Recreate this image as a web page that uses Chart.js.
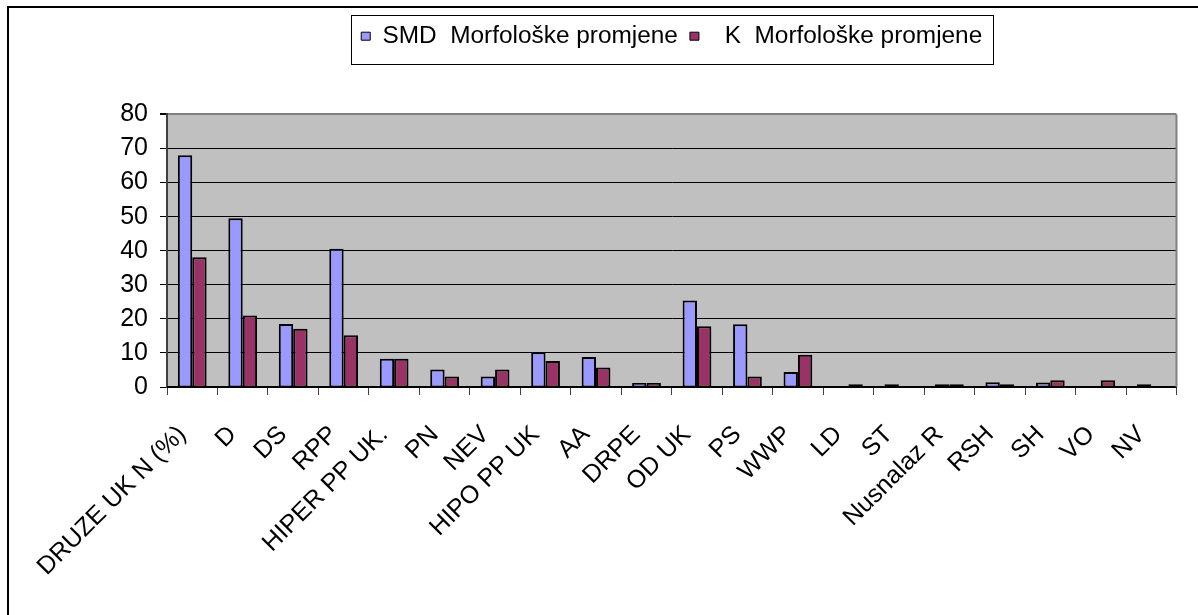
<!DOCTYPE html>
<html>
<head>
<meta charset="utf-8">
<script src="https://cdn.jsdelivr.net/npm/chart.js@4.4.1/dist/chart.umd.min.js"></script>
<style>
  html, body { margin: 0; padding: 0; background: #fff; }
  #wrap { position: relative; width: 1198px; height: 615px; }
</style>
</head>
<body>
<div id="wrap"><canvas id="chart" width="1198" height="615"></canvas></div>
<script>
const categories = [
  'DRUZE UK N (%)', 'D', 'DS', 'RPP', 'HIPER PP UK.', 'PN', 'NEV', 'HIPO PP UK',
  'AA', 'DRPE', 'OD UK', 'PS', 'WWP', 'LD', 'ST', 'Nusnalaz R', 'RSH', 'SH', 'VO', 'NV'
];
const smdValues = [68, 49.5, 18.5, 40.6, 8.3, 5.1, 3.1, 10.2, 8.8, 1.2, 25.4, 18.4, 4.4, 0, 0.8, 0.8, 1.4, 1.3, 0, 0.8];
const kValues = [38.1, 21, 17.1, 15.2, 8.3, 3.1, 5.1, 7.6, 5.7, 1.2, 17.8, 3.1, 9.5, 0.8, 0, 0.8, 0.8, 2.0, 2.0, 0];
const seriesNames = ['SMD  Morfološke promjene', '  K  Morfološke promjene'];
const yMin = 0;
const yMax = 80;
const yStep = 10;

const FAMILY = "'Liberation Sans', Arial, sans-serif";
const TICK_FONT = { family: FAMILY, size: 25 };
const LEGEND_FONT = { family: FAMILY, size: 24.4 };
const BAR_BORDER = { top: 2, left: 2, right: 2, bottom: 1 };

// grey plot background, outer frame, plot edges and legend box
const chartFrame = {
  id: 'chartFrame',
  beforeLayout(chart) {
    const legend = chart.legend;
    if (legend && !legend._tallFit) {
      const fit = legend.fit.bind(legend);
      legend.fit = function () {
        fit();
        this.height += 56;
      };
      legend._tallFit = true;
    }
  },
  beforeDraw(chart) {
    const { ctx, chartArea: a } = chart;
    ctx.save();
    ctx.fillStyle = '#C0C0C0';
    ctx.fillRect(a.left, a.top, a.right - a.left, a.bottom - a.top);
    ctx.restore();
  },
  afterDatasetsDraw(chart) {
    const { ctx, chartArea: a } = chart;
    ctx.save();
    ctx.strokeStyle = '#000';
    ctx.lineWidth = 2;
    ctx.beginPath();
    ctx.moveTo(a.left, a.bottom);
    ctx.lineTo(a.right, a.bottom);
    ctx.stroke();
    ctx.restore();
  },
  afterDraw(chart) {
    const { ctx, chartArea: a, legend } = chart;
    ctx.save();
    ctx.strokeStyle = '#000';
    ctx.lineWidth = 2;
    ctx.beginPath();
    ctx.moveTo(8, 620);
    ctx.lineTo(8, 7);
    ctx.lineTo(1200, 7);
    ctx.stroke();

    ctx.strokeStyle = '#808080';
    ctx.beginPath();
    ctx.moveTo(a.right, a.top);
    ctx.lineTo(a.right, a.bottom);
    ctx.stroke();

    const boxes = legend.legendHitBoxes || [];
    if (boxes.length) {
      const first = boxes[0];
      const last = boxes[boxes.length - 1];
      const x0 = Math.round(first.left - 10);
      const x1 = Math.round(last.left + last.width + 11);
      const y0 = Math.round(first.top - 9);
      const y1 = Math.round(first.top + first.height + 16);
      ctx.strokeStyle = '#000';
      ctx.lineWidth = 1;
      ctx.strokeRect(x0 + 0.5, y0 + 0.5, x1 - x0, y1 - y0);
    }
    ctx.restore();
  }
};

new Chart(document.getElementById('chart'), {
  type: 'bar',
  data: {
    labels: categories,
    datasets: [
      {
        label: seriesNames[0],
        data: smdValues,
        backgroundColor: '#9999FF',
        borderColor: '#000',
        borderWidth: BAR_BORDER,
        borderSkipped: false
      },
      {
        label: seriesNames[1],
        data: kValues,
        backgroundColor: '#993366',
        borderColor: '#000',
        borderWidth: BAR_BORDER,
        borderSkipped: false
      }
    ]
  },
  options: {
    responsive: false,
    animation: false,
    layout: { padding: { top: 12, right: 13, bottom: 0, left: 0 } },
    datasets: { bar: { barPercentage: 1, categoryPercentage: 0.57 } },
    plugins: {
      legend: {
        position: 'top',
        fullSize: false,
        labels: {
          boxWidth: 9,
          boxHeight: 8,
          padding: 12,
          color: '#000',
          font: LEGEND_FONT,
          generateLabels(chart) {
            return Chart.defaults.plugins.legend.labels.generateLabels(chart)
              .map((item) => ({ ...item, lineWidth: 1 }));
          }
        }
      },
      tooltip: { enabled: false }
    },
    scales: {
      x: {
        grid: { drawOnChartArea: false, drawTicks: true, tickLength: 8, color: '#404040', offset: true },
        border: { color: '#404040', width: 2 },
        ticks: {
          color: '#000',
          font: TICK_FONT,
          minRotation: 45,
          maxRotation: 45,
          autoSkip: false,
          padding: 25,
          labelOffset: -10
        },
        afterFit(scale) { scale.height = 228; }
      },
      y: {
        min: yMin,
        max: yMax,
        ticks: { stepSize: yStep, color: '#000', font: TICK_FONT, padding: 12 },
        grid: {
          color: (c) => (c.tick && c.tick.value === yMax ? '#808080' : '#000'),
          lineWidth: (c) => (c.tick && c.tick.value === yMax ? 2 : 1),
          tickColor: '#000',
          tickLength: 7
        },
        border: { color: '#404040', width: 2 },
        afterFit(scale) { scale.width = 167; }
      }
    }
  },
  plugins: [chartFrame]
});
</script>
</body>
</html>
